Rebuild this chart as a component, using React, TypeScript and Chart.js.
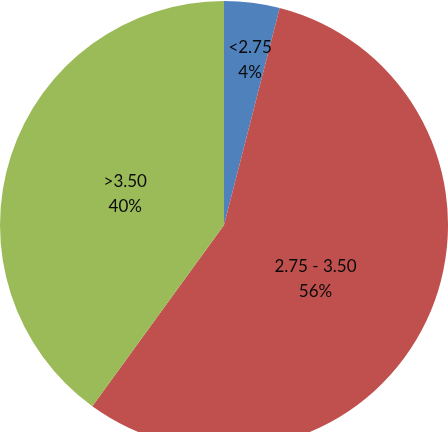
import React, { useEffect, useRef } from "react";
import { Chart, registerables } from "chart.js";

Chart.register(...registerables);

const categories = ["<2.75", "2.75 - 3.50", ">3.50"];
const values = [4, 56, 40];
const percentLabels = ["4%", "56%", "40%"];
const colors = ["#4F81BD", "#C0504D", "#9BBB59"];
const labelRadiusFraction = [0.745, 0.475, 0.462];
const labelAngleOffsetDeg = [1.8, 5.5, -0.6];

const labelPlugin = {
  id: "sliceLabels",
  afterDatasetsDraw(chart: any) {
    const ctx = chart.ctx;
    const meta = chart.getDatasetMeta(0);
    ctx.save();
    ctx.fillStyle = "#0a0a0a";
    ctx.font = "17px Lato";
    ctx.textAlign = "center";
    ctx.textBaseline = "middle";
    meta.data.forEach((arc: any, i: number) => {
      const p = arc.getProps(["x", "y", "startAngle", "endAngle", "outerRadius"], true);
      const mid = (p.startAngle + p.endAngle) / 2 + (labelAngleOffsetDeg[i] * Math.PI) / 180;
      const r = p.outerRadius * labelRadiusFraction[i];
      const cx = p.x + Math.cos(mid) * r;
      const cy = p.y + Math.sin(mid) * r;
      ctx.fillText(categories[i], cx, cy - 12.5);
      ctx.fillText(percentLabels[i], cx, cy + 12.5);
    });
    ctx.restore();
  },
};

export default function App() {
  const ref = useRef<HTMLCanvasElement | null>(null);
  useEffect(() => {
    document.body.style.margin = "0";
    document.body.style.overflow = "hidden";
    const chart = new Chart(ref.current as HTMLCanvasElement, {
      type: "pie",
      data: {
        labels: categories,
        datasets: [
          {
            data: values,
            backgroundColor: colors,
            borderWidth: 0,
          },
        ],
      },
      options: {
        animation: false,
        responsive: false,
        maintainAspectRatio: false,
        layout: { padding: 0 },
        plugins: {
          legend: { display: false },
          tooltip: { enabled: false },
        },
      },
      plugins: [labelPlugin],
    });
    return () => chart.destroy();
  }, []);
  return (
    <div style={{ position: "absolute", left: 0, top: 0, width: 448, height: 432, overflow: "hidden", background: "#fff" }}>
      <canvas ref={ref} width={448} height={450} style={{ width: 448, height: 450, display: "block" }} />
    </div>
  );
}
